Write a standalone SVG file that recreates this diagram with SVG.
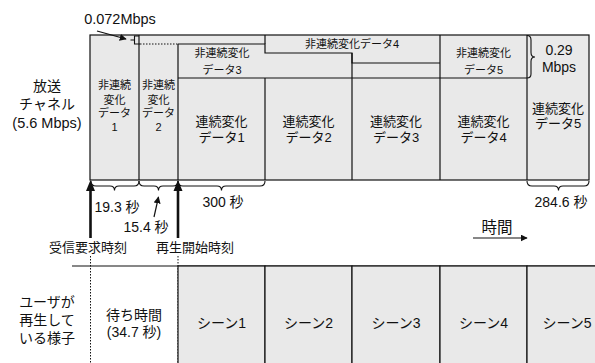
<svg xmlns="http://www.w3.org/2000/svg" width="595" height="363" viewBox="0 0 595 363">
<defs>
<style>
text{font-family:"Liberation Sans","Noto Sans CJK JP",sans-serif;fill:#111;text-anchor:middle}
.s11{font-size:11px}.s13{font-size:13px}.s14{font-size:14px}.s145{font-size:14.5px}.s15{font-size:15.5px}
.box{fill:#e9e9e9;stroke:#111;stroke-width:1.2}
.ln{fill:none;stroke:#111;stroke-width:1.2}
.br{fill:none;stroke:#111;stroke-width:1.1}
.dot{fill:none;stroke:#111;stroke-width:1;stroke-dasharray:1.5 1.5}
.thin{fill:none;stroke:#111;stroke-width:1.2}
.thick{fill:none;stroke:#111;stroke-width:2.6}
</style>
<marker id="ah" viewBox="0 0 10 10" refX="9" refY="5" markerWidth="7" markerHeight="7" orient="auto-start-reverse" markerUnits="userSpaceOnUse"><path d="M0,0L10,5L0,10z" fill="#111"/></marker>
</defs>
<rect width="595" height="363" fill="#fff"/>

<g id="channel">
<rect class="box" x="90" y="35" width="499" height="145"/>
</g>
<g id="data1"><line class="ln" x1="139" y1="35" x2="139" y2="180"/>
<text class="s11" x="114.5" y="89">非連続</text><text class="s11" x="114.5" y="104">変化</text><text class="s11" x="114.5" y="117">データ</text><text class="s11" x="114.5" y="131">1</text></g>
<g id="data2"><line class="dot" x1="140" y1="44" x2="178" y2="44"/><line class="ln" x1="178" y1="44" x2="178" y2="180"/>
<text class="s11" x="158.5" y="89">非連続</text><text class="s11" x="158.5" y="104">変化</text><text class="s11" x="158.5" y="117">データ</text><text class="s11" x="158.5" y="131">2</text></g>
<g id="data3"><path class="ln" d="M178,44H265V53H352V78"/>
<text class="s11" x="222" y="57">非連続変化</text><text class="s11" x="222" y="74">データ3</text></g>
<g id="data4"><path class="ln" d="M265,35V44M352,53V63H440"/>
<text class="s11" x="352" y="48">非連続変化データ4</text></g>
<g id="data5"><line class="ln" x1="440" y1="35" x2="440" y2="180"/><line class="ln" x1="527" y1="35" x2="527" y2="180"/>
<text class="s11" x="483.5" y="57">非連続変化</text><text class="s11" x="483.5" y="74">データ5</text></g>
<g id="cont"><line class="ln" x1="178" y1="78" x2="527" y2="78"/>
<line class="ln" x1="265" y1="78" x2="265" y2="180"/><line class="ln" x1="352" y1="78" x2="352" y2="180"/>
<text class="s13" x="221.5" y="126">連続変化</text><text class="s13" x="221.5" y="142">データ1</text>
<text class="s13" x="308.5" y="126">連続変化</text><text class="s13" x="308.5" y="142">データ2</text>
<text class="s13" x="396" y="126">連続変化</text><text class="s13" x="396" y="142">データ3</text>
<text class="s13" x="483.5" y="126">連続変化</text><text class="s13" x="483.5" y="142">データ4</text>
<text class="s13" x="558" y="113">連続変化</text><text class="s13" x="558" y="128">データ5</text></g>
<g id="rate"><text class="s14" x="559" y="55">0.29</text><text class="s14" x="559" y="72">Mbps</text>
<path class="br" d="M527,35.5Q531,35.5 531,40V52.5Q531,57 535,57Q531,57 531,61.5V74Q531,78 527,78"/></g>
<g id="rate072"><text class="s145" x="120" y="24">0.072Mbps</text>
<path class="br" d="M139,36H134.5V44H140M134.5,40H130.5"/></g>

<g id="labels">
<text class="s14" x="47" y="91">放送</text><text class="s14" x="47" y="109">チャネル</text><text class="s145" x="47" y="128">(5.6 Mbps)</text>
<text class="s14" x="117" y="212">19.3 秒</text><text class="s14" x="146" y="232">15.4 秒</text>
<text class="s14" x="223" y="207">300 秒</text><text class="s14" x="561" y="207">284.6 秒</text>
<text class="s15" x="497" y="233">時間</text>
<text class="s13" x="88" y="252">受信要求時刻</text><text class="s13" x="195" y="252">再生開始時刻</text>
</g>

<g id="connectors">
<path class="br" d="M91,181Q91,186 96,186H110Q114.5,186 114.5,190.5Q114.5,186 119,186H134Q139,186 139,181"/>
<path class="br" d="M139,181Q139,186 144,186H154Q158.5,186 158.5,190.5Q158.5,186 163,186H173Q178,186 178,181"/>
<path class="br" d="M178,181Q178,186 183,186H217Q221.5,186 221.5,190.5Q221.5,186 226,186H260Q265,186 265,181"/>
<path class="br" d="M527,181Q527,186 532,186H554Q558.5,186 558.5,190.5Q558.5,186 563,186H584Q589,186 589,181"/>
<line class="thick" x1="90.5" y1="238" x2="90.5" y2="188"/><polygon points="90.5,180 86,191 95,191" fill="#111"/>
<line class="thick" x1="178" y1="238" x2="178" y2="188"/><polygon points="178,180 173.5,191 182.5,191" fill="#111"/>
<line class="thin" x1="154" y1="217" x2="158.5" y2="197" marker-end="url(#ah)"/>
<line class="thin" x1="97" y1="31" x2="126" y2="39" marker-end="url(#ah)"/>
<line class="thin" x1="473" y1="238" x2="527" y2="238" marker-end="url(#ah)"/>
<line class="dot" x1="90.5" y1="256" x2="90.5" y2="363"/>
<line class="dot" x1="178" y1="256" x2="178" y2="363"/>
</g>

<g id="user">
<line class="ln" x1="72" y1="266" x2="595" y2="266"/>
<text class="s14" x="47" y="307">ユーザが</text><text class="s14" x="47" y="325">再生して</text><text class="s14" x="47" y="343">いる様子</text>
<text class="s14" x="134" y="320">待ち時間</text><text class="s14" x="134" y="337">(34.7 秒)</text>
</g>
<g id="scene1"><rect class="box" x="178" y="266" width="87" height="100"/><text class="s14" x="221.5" y="328">シーン1</text></g>
<g id="scene2"><rect class="box" x="265" y="266" width="87" height="100"/><text class="s14" x="308.5" y="328">シーン2</text></g>
<g id="scene3"><rect class="box" x="352" y="266" width="88" height="100"/><text class="s14" x="396" y="328">シーン3</text></g>
<g id="scene4"><rect class="box" x="440" y="266" width="87" height="100"/><text class="s14" x="483.5" y="328">シーン4</text></g>
<g id="scene5"><rect class="box" x="527" y="266" width="80" height="100"/><text class="s14" x="567" y="328">シーン5</text></g>
</svg>
